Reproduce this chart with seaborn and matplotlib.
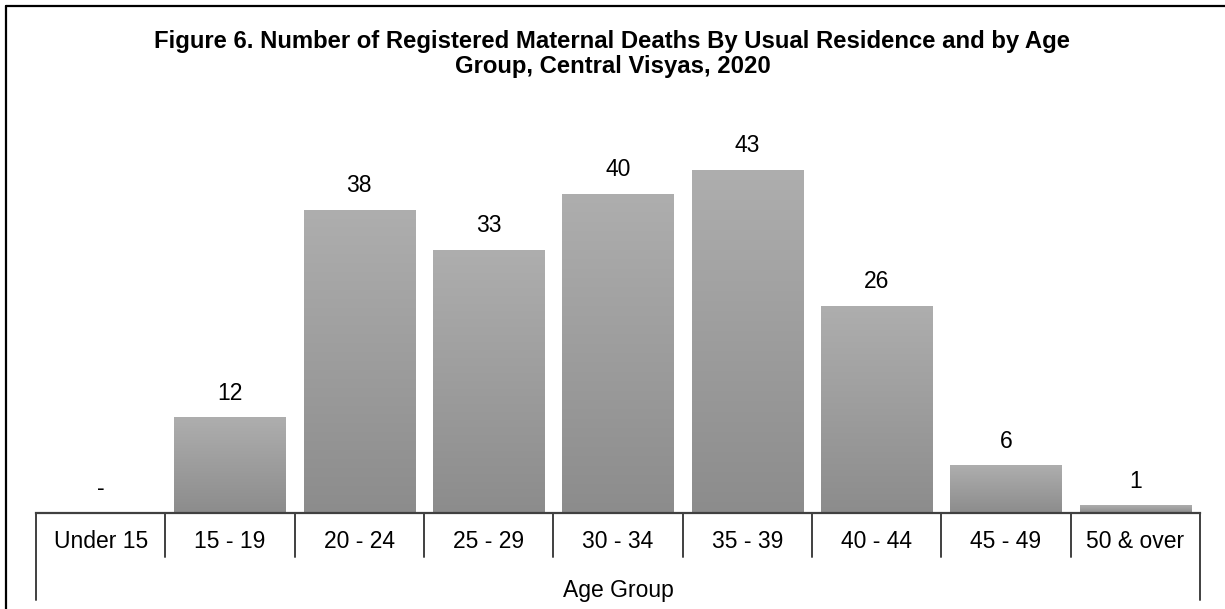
import numpy as np
import pandas as pd
import matplotlib
matplotlib.use("Agg")
import matplotlib.pyplot as plt
from matplotlib.lines import Line2D
import seaborn as sns

categories = ["Under 15", "15 - 19", "20 - 24", "25 - 29", "30 - 34",
              "35 - 39", "40 - 44", "45 - 49", "50 & over"]
deaths = [0, 12, 38, 33, 40, 43, 26, 6, 1]
title = ("Figure 6. Number of Registered Maternal Deaths By Usual Residence and by Age\n"
         "Group, Central Visyas, 2020")
xlabel = "Age Group"

sns.set_theme(style="white")
plt.rcParams["font.family"] = ["Liberation Sans", "DejaVu Sans"]

df = pd.DataFrame({"age": categories, "deaths": deaths})

W, H = 1225, 609
fig = plt.figure(figsize=(W / 100, H / 100), dpi=100)
ax = fig.add_axes([36 / W, 96 / H, 1164 / W, 383 / H])

sns.barplot(data=df, x="age", y="deaths", color="#9c9c9c", width=0.86,
            saturation=1, ax=ax)

# vertical gradient per bar
grad = np.linspace(0, 1, 256).reshape(-1, 1)
cmap = matplotlib.colors.LinearSegmentedColormap.from_list("g", ["#8c8c8c", "#aeaeae"])
for p in list(ax.patches):
    x0, y0 = p.get_x(), p.get_y()
    w, h = p.get_width(), p.get_height()
    if h <= 0:
        continue
    p.set_facecolor("none")
    p.set_edgecolor("none")
    im = ax.imshow(grad, extent=[x0, x0 + w, y0, y0 + h], origin="lower",
                   cmap=cmap, aspect="auto", zorder=2)
    im.set_clip_path(p)
ax.set_xlim(-0.5, len(categories) - 0.5)
ax.set_ylim(0, 48)

# value labels
for i, v in enumerate(deaths):
    lab = "-" if v == 0 else str(v)
    ax.annotate(lab, (i, v), xytext=(0, 24), textcoords="offset pixels",
                ha="center", va="center", fontsize=16.5, color="black")

for s in ["top", "right", "left"]:
    ax.spines[s].set_visible(False)
ax.spines["bottom"].set_color("#404040")
ax.spines["bottom"].set_linewidth(1.6)
ax.set_yticks([])
ax.set_ylabel("")
ax.set_xlabel("")
ax.set_xticks(range(len(categories)))
ax.set_xticklabels(categories, fontsize=16.5, color="black")
ax.tick_params(axis="x", length=0, pad=12)

# category boundary ticks
trans = ax.get_xaxis_transform()
n = len(categories)
for k in range(n + 1):
    xb = k - 0.5
    depth = 87 if k in (0, n) else 44
    y_end = -depth / 383
    ax.add_line(Line2D([xb, xb], [0, y_end], transform=trans, color="#404040",
                       lw=1.4, clip_on=False))

ax.text(0.5, -77 / 383, xlabel, transform=ax.transAxes, ha="center", va="center",
        fontsize=16.5, color="black")

fig.text(0.5, 1 - 54 / H, title, ha="center", va="center", fontsize=17.2,
         fontweight="bold", linespacing=1.1, color="black")

# figure border (top and left)
fig.add_artist(Line2D([5.5 / W, 1], [1 - 5.5 / H, 1 - 5.5 / H], transform=fig.transFigure,
                      color="black", lw=1.6))
fig.add_artist(Line2D([5.5 / W, 5.5 / W], [0, 1 - 5.5 / H], transform=fig.transFigure,
                      color="black", lw=1.6))

fig.savefig("out.png", dpi=100)
